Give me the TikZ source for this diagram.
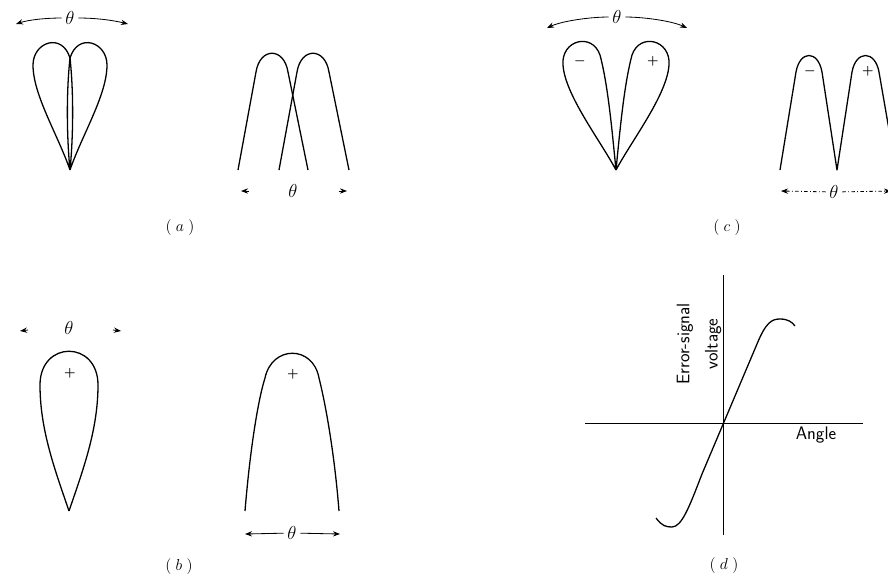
\RequirePackage{fix-cm}
\documentclass[tikz,border=0pt]{standalone}
\usetikzlibrary{arrows.meta, calc}

\begin{document}
\begin{tikzpicture}[x=0.03cm, y=-0.03cm,
		curve/.style={line width=1.1pt, line join=round},
		arr/.style={-{Stealth[length=6pt, width=4.5pt]}, line width=0.7pt},
		ang/.style={font=\fontsize{16}{18}\selectfont, inner sep=3pt},
		sign/.style={font=\fontsize{11}{13}\selectfont\boldmath, inner sep=0pt},
		panel/.style={font=\fontsize{13.5}{15}\selectfont},
		lbl/.style={font=\sffamily\fontsize{15.5}{24}\selectfont, align=center}
		]
		\useasboundingbox (0,0) rectangle (888,575);
		\clip (0,0) rectangle (888,575);

		% (a) sum pattern: two lobes side by side
		\draw[curve] (70,170) .. controls (58,135) and (33,95) .. (33,65)
			.. controls (33,42) and (62,32) .. (70,58)
			.. controls (66,95) and (67,140) .. (70,170);
		\begin{scope}[shift={(140,0)}, xscale=-1]
			\draw[curve] (70,170) .. controls (58,135) and (33,95) .. (33,65)
				.. controls (33,42) and (62,32) .. (70,58)
				.. controls (66,95) and (67,140) .. (70,170);
		\end{scope}
		\node[ang] (thA) at (70,18) {$\theta$};
		\coordinate (aL) at (16,24);
		\coordinate (aR) at (128,24);
		\draw[arr] (thA.west) .. controls (45,18) and (28,20) .. (aL);
		\draw[arr] (thA.east) .. controls (95,18) and (112,20) .. (aR);

		\draw[curve] (238,170) -- (256,72) .. controls (260,47) and (284,47) .. (288,72) -- (308,170);
		\draw[curve, shift={(41,0)}] (238,170) -- (256,72) .. controls (260,47) and (284,47) .. (288,72) -- (308,170);
		\node[ang] (thAr) at (293,191) {$\theta$};
		\coordinate (arL) at (241,191);
		\coordinate (arR) at (347,191);
		\draw[arr] ($(arL)+(8,0)$) -- (arL);
		\draw[arr] ($(arR)+(-8,0)$) -- (arR);
		\node[panel] (capA) at (180,228) {$(\;a\;)$};

		% (b) single lobe
		\draw[curve] (69,511) .. controls (55,470) and (40,430) .. (40,385)
			.. controls (40,340) and (98,340) .. (98,385)
			.. controls (98,430) and (83,470) .. (69,511);
		\node[sign] (pB) at (70,373) {$+$};
		\node[ang] (thB) at (69,328) {$\theta$};
		\coordinate (bL) at (20,331);
		\coordinate (bR) at (121,331);
		\draw[arr] ($(bL)+(8,-1)$) -- (bL);
		\draw[arr] ($(bR)+(-8,-1)$) -- (bR);

		\draw[curve] (245,511) .. controls (250,450) and (258,400) .. (265,378)
			.. controls (272,345) and (313,345) .. (319,378)
			.. controls (327,410) and (335,460) .. (339,511);
		\node[sign] (pBr) at (293,374) {$+$};
		\node[ang] (thBr) at (292,533) {$\theta$};
		\coordinate (brL) at (245,534);
		\coordinate (brR) at (340,534);
		\draw[arr] (thBr) -- (brL);
		\draw[arr] (thBr) -- (brR);
		\node[panel] (capB) at (179,567) {$(\;b\;)$};

		% (c) difference pattern
		\draw[curve] (616,170) .. controls (600,140) and (565,95) .. (563,65)
			.. controls (561,40) and (592,32) .. (600,55)
			.. controls (608,85) and (612,130) .. (616,170);
		\begin{scope}[shift={(1232,0)}, xscale=-1]
			\draw[curve] (616,170) .. controls (600,140) and (565,95) .. (563,65)
				.. controls (561,40) and (592,32) .. (600,55)
				.. controls (608,85) and (612,130) .. (616,170);
		\end{scope}
		\node[sign] (mC) at (580,61) {$-$};
		\node[sign] (pC) at (653,61) {$+$};
		\node[ang] (thC) at (617,17) {$\theta$};
		\coordinate (cL) at (547,28);
		\coordinate (cR) at (687,28);
		\draw[arr] (thC.west) .. controls (590,17) and (562,21) .. (cL);
		\draw[arr] (thC.east) .. controls (644,17) and (672,21) .. (cR);

		\draw[curve] (780,170) -- (796,72) .. controls (800,50) and (818,50) .. (822,72)
			-- (837,170) -- (852,72) .. controls (856,50) and (875,50) .. (879,72) -- (896,170);
		\node[sign] (mCr) at (810,71) {$-$};
		\node[sign] (pCr) at (868,71) {$+$};
		\node[ang] (thCr) at (834,192) {$\theta$};
		\coordinate (crL) at (781,191);
		\coordinate (crR) at (891,191);
		\draw[arr, dash dot] (thCr) -- (crL);
		\draw[arr, dash dot] (thCr) -- (crR);
		\node[panel] (capC) at (727,228) {$(\;c\;)$};

		% (d) error signal
		\draw[line width=0.8pt] (723,275) -- (723,535);
		\draw[line width=0.8pt] (585,423) -- (863,423);
		\draw[curve] (656,518) .. controls (662,526) and (666,527) .. (672,527)
			.. controls (682,527) and (690,505) .. (702,474) -- (757,344)
			.. controls (766,322) and (772,319) .. (780,319)
			.. controls (788,319) and (792,322) .. (795,326);
		\node[lbl, rotate=90] (volt) at (699,344) {Error-signal\\voltage};
		\node[lbl] (angle) at (816,435) {Angle};
		\node[panel] (capD) at (724,566) {$(\;d\;)$};
	\end{tikzpicture}
\end{document}
